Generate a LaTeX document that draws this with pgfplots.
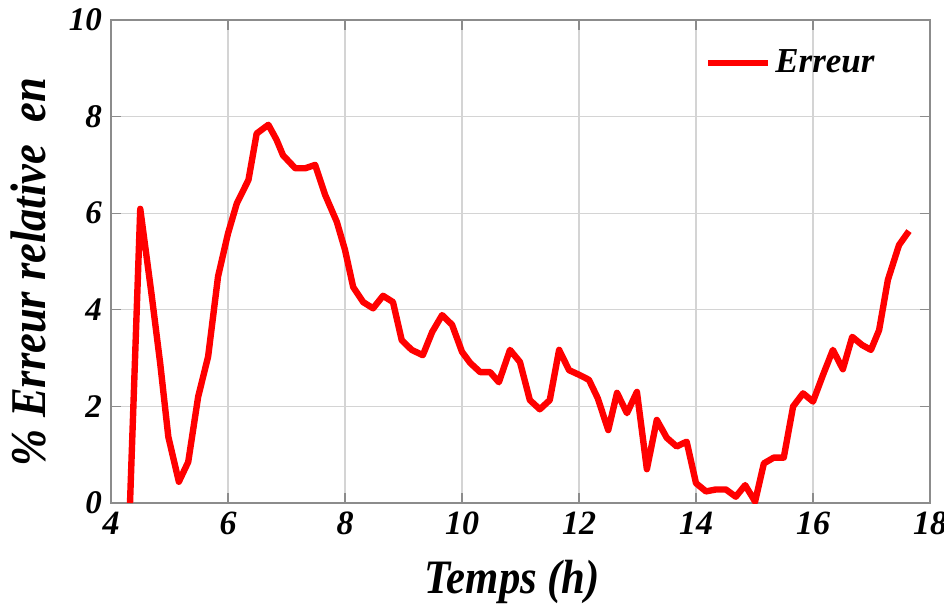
\documentclass[border=0pt]{standalone}
\usepackage{fontspec}
\setmainfont{Liberation Serif}
\newfontfamily\labserif{Liberation Serif}[FakeStretch=0.89]
\usepackage{pgfplots}
\pgfplotsset{compat=1.18}
\usetikzlibrary{calc}
\definecolor{errRed}{HTML}{FF0000}
\definecolor{gridGray}{HTML}{D4D4D4}
\definecolor{boxGray}{HTML}{8C8C8C}

\begin{document}
\begin{tikzpicture}
\begin{axis}[
  scale only axis, width=409.5pt, height=241.5pt,
  xmin=4, xmax=18, ymin=0, ymax=10,
  xtick={4,6,...,18}, ytick={0,2,...,10},
  /pgf/number format/assume math mode=true,
  xticklabel style={font=\bfseries\itshape\fontsize{17}{17}\selectfont, yshift=-1pt},
  yticklabel style={font=\bfseries\itshape\fontsize{16.5}{16.5}\selectfont, xshift=-1pt},
  grid=major, grid style={gridGray, line width=0.6pt},
  axis line style={boxGray, line width=0.7pt},
  tick style={boxGray, line width=0.6pt}, tick align=inside, major tick length=5pt,
  xlabel={Temps (h)}, ylabel={\% Erreur relative\ \ en},
  xlabel style={font=\labserif\bfseries\itshape\fontsize{24}{24}\selectfont,
    at={(axis description cs:0.49,-0.164)}, anchor=center},
  ylabel style={font=\labserif\bfseries\itshape\fontsize{25}{25}\selectfont,
    at={(axis description cs:-0.101,0.478)}, anchor=center},
  legend style={draw=none, fill=none, at={(axis description cs:0.945,0.911)}, anchor=east,
    font=\bfseries\itshape\fontsize{17.5}{17.5}\selectfont},
  legend cell align=left,
  legend image code/.code={\draw[#1, line width=3.2pt] (0pt,0pt) -- (30pt,0pt);},
]
\addplot[errRed, line width=3.2pt, line join=round] coordinates {
(4.325,0) (4.50,6.09) (4.69,4.35) (4.84,2.9) (4.98,1.37) (5.16,0.44) (5.32,0.85)
(5.49,2.2) (5.66,3.03) (5.83,4.69) (6.0,5.58) (6.15,6.2) (6.35,6.69) (6.49,7.65)
(6.69,7.83) (6.83,7.52) (6.94,7.2) (7.15,6.93) (7.32,6.93) (7.49,7.0) (7.66,6.38)
(7.86,5.82) (8.0,5.24) (8.14,4.47) (8.31,4.16) (8.48,4.03) (8.65,4.29) (8.82,4.16)
(8.97,3.37) (9.14,3.17) (9.33,3.06) (9.49,3.54) (9.66,3.89) (9.83,3.69) (10.0,3.13)
(10.14,2.9) (10.31,2.71) (10.48,2.71) (10.63,2.5) (10.82,3.17) (10.99,2.92) (11.16,2.13)
(11.33,1.94) (11.5,2.13) (11.66,3.17) (11.83,2.75) (12.01,2.65) (12.17,2.55) (12.32,2.17)
(12.5,1.51) (12.65,2.28) (12.82,1.86) (12.99,2.3) (13.16,0.70) (13.33,1.72) (13.5,1.35)
(13.67,1.17) (13.84,1.27) (14.0,0.41) (14.17,0.24) (14.34,0.28) (14.51,0.28) (14.68,0.13)
(14.84,0.37) (15.01,0.03) (15.16,0.82) (15.33,0.94) (15.5,0.94) (15.66,2.0) (15.83,2.27)
(16.0,2.1) (16.17,2.65) (16.34,3.17) (16.51,2.77) (16.67,3.44) (16.84,3.27) (16.99,3.17)
(17.13,3.58) (17.28,4.62) (17.47,5.34) (17.64,5.63)
};
\addlegendentry{Erreur}
\coordinate (sw) at (rel axis cs:0,0);
\coordinate (ne) at (rel axis cs:1,1);
\end{axis}
\pgfresetboundingbox
\path ($(sw)+(-55.5pt,-52.5pt)$) rectangle ($(ne)+(7pt,10pt)$);
\end{tikzpicture}
\end{document}
